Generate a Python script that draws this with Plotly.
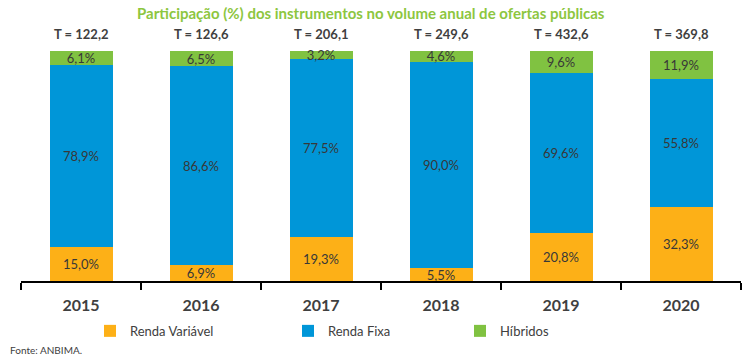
import plotly.graph_objects as go

years = ["2015", "2016", "2017", "2018", "2019", "2020"]
totals = ["122,2", "126,6", "206,1", "249,6", "432,6", "369,8"]
renda_variavel = [15.0, 6.9, 19.3, 5.5, 20.8, 32.3]
renda_fixa = [78.9, 86.6, 77.5, 90.0, 69.6, 55.8]
hibridos = [6.1, 6.5, 3.2, 4.6, 9.6, 11.9]

FONT = "Lato"
TXT = "#404040"

W, H = 750, 355
ML, MR, MT, MB = 21, 9, 51, 74
PW = W - ML - MR

fig = go.Figure()
series = [
    ("Renda Variável", renda_variavel, "#FDB017", "legend2"),
    ("Renda Fixa", renda_fixa, "#0096D8", "legend3"),
    ("Híbridos", hibridos, "#80C241", "legend4"),
]
for name, vals, col, lg in series:
    fig.add_trace(go.Bar(
        x=years, y=vals, name=name, marker=dict(color=col, line=dict(width=0)),
        texttemplate="%{y:.1f}%", textposition="inside", insidetextanchor="middle",
        constraintext="none", cliponaxis=False, textangle=0,
        textfont=dict(family=FONT, size=13, color="#383838"),
        legend=lg, width=0.525,
    ))

def px2paper(px):
    return (px - ML) / PW

legend_common = dict(orientation="h", yanchor="middle", y=-0.217, xanchor="left",
                     font=dict(family=FONT, size=13, color=TXT), bgcolor="rgba(0,0,0,0)",
                     itemwidth=30, tracegroupgap=0)
fig.update_layout(
    legend2=dict(legend_common, x=px2paper(90)),
    legend3=dict(legend_common, x=px2paper(288)),
    legend4=dict(legend_common, x=px2paper(460)),
)

annotations = []
for i, t in enumerate(totals):
    annotations.append(dict(x=i, y=1.0, xref="x", yref="paper", yshift=17,
                            text=f"<b>T = {t}</b>", showarrow=False,
                            font=dict(family=FONT, size=13, color=TXT),
                            yanchor="middle"))
annotations.append(dict(x=px2paper(371), y=1.0, xref="paper", yref="paper", yshift=38,
                        text="<b>Participação (%) dos instrumentos no volume anual de ofertas públicas</b>",
                        showarrow=False, font=dict(family=FONT, size=15, color="#8DC63F"),
                        yanchor="middle", xanchor="center"))
annotations.append(dict(x=px2paper(8), y=0, xref="paper", yref="paper", yshift=-69,
                        text="Fonte: ANBIMA.", showarrow=False,
                        font=dict(family=FONT, size=10, color=TXT),
                        xanchor="left", yanchor="middle"))

fig.update_layout(
    width=W, height=H, barmode="stack", separators=",.",
    margin=dict(l=ML, r=MR, t=MT, b=MB, pad=0),
    paper_bgcolor="white", plot_bgcolor="white",
    font=dict(family=FONT, color=TXT),
    annotations=annotations,
    xaxis=dict(type="category", range=[-0.5, 5.5], showline=True, linecolor="black",
               linewidth=1.5, ticks="outside", tickson="boundaries", ticklen=7,
               tickcolor="black", tickwidth=1.5, showgrid=False,
               tickfont=dict(family=FONT, size=16, color=TXT),
               tickprefix="<b>", ticksuffix="</b>", ticklabelstandoff=9),
    yaxis=dict(range=[0, 100.15], visible=False, showgrid=False),
)

fig.write_html("out.html", config={"displayModeBar": False},
               post_script="document.body.style.margin='0';document.body.style.overflow='hidden';")
